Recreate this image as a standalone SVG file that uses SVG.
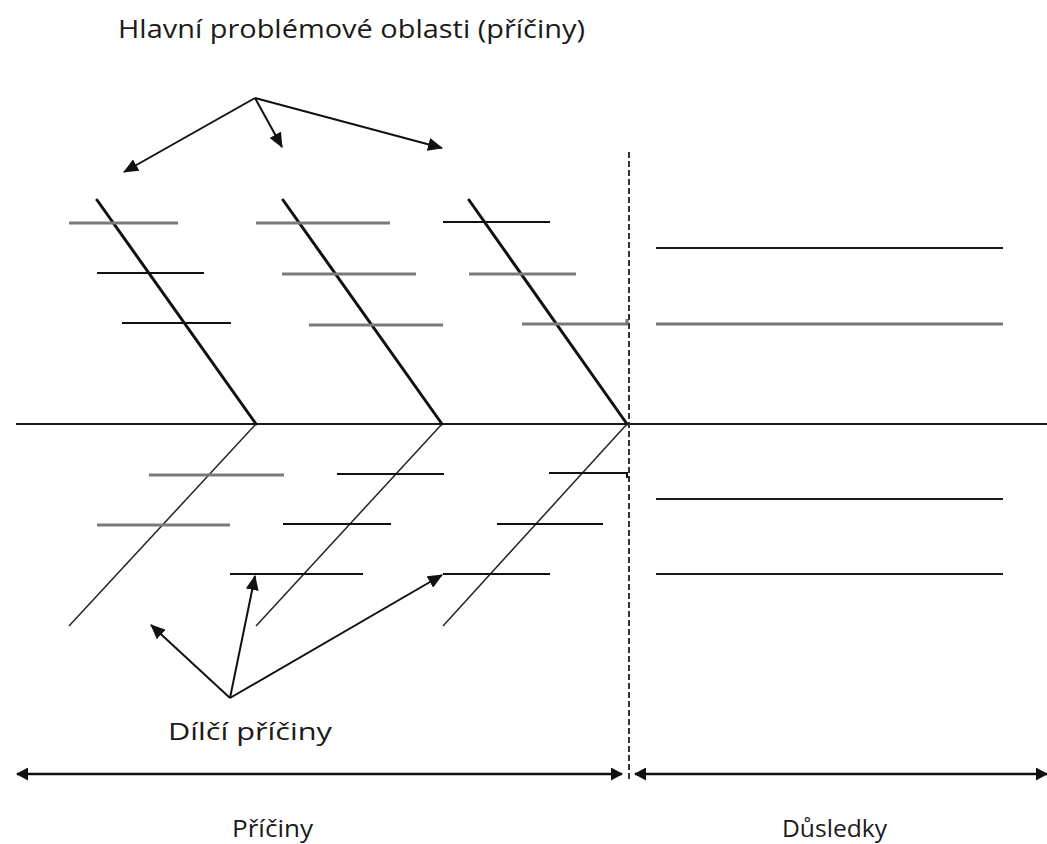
<svg xmlns="http://www.w3.org/2000/svg" width="1047" height="844" viewBox="0 0 1047 844">
<style>
  .txt { font-family: "Open Sans", "DejaVu Sans", sans-serif; fill: #1a1a1a; }
  .spine { stroke: #1a1a1a; stroke-width: 2; fill: none; }
  .bone { stroke: #111; stroke-width: 3; fill: none; stroke-linecap: round; }
  .lbone { stroke: #222; stroke-width: 1.5; fill: none; }
  .rib { stroke: #111; stroke-width: 2; fill: none; }
  .grib { stroke: #7a7a7a; stroke-width: 3.2; fill: none; }
  .cons { stroke: #1a1a1a; stroke-width: 2; fill: none; }
  .gcons { stroke: #777; stroke-width: 3.2; fill: none; }
  .arr { stroke: #111; stroke-width: 2; fill: none; marker-end: url(#ah); }
  .dbl { stroke: #111; stroke-width: 2.5; fill: none; marker-start: url(#ah2); marker-end: url(#ah2); }
  .dash { stroke: #333; stroke-width: 2; stroke-dasharray: 6 3; fill: none; }
</style>
<defs>
  <marker id="ah" viewBox="0 0 15 13" refX="14" refY="6.5" markerWidth="15" markerHeight="13" markerUnits="userSpaceOnUse" orient="auto">
    <path d="M0,0 L15,6.5 L0,13 Z" fill="#111"/>
  </marker>
  <marker id="ah2" viewBox="0 0 12 13" refX="11" refY="6.5" markerWidth="12" markerHeight="13" markerUnits="userSpaceOnUse" orient="auto-start-reverse">
    <path d="M0,0 L12,6.5 L0,13 Z" fill="#111"/>
  </marker>
</defs>
<rect width="1047" height="844" fill="#ffffff"/>

<g id="title">
  <text class="txt" x="118" y="38" font-size="26" textLength="467" lengthAdjust="spacingAndGlyphs">Hlavní problémové oblasti (příčiny)</text>
</g>

<g id="spine">
  <line class="spine" x1="16" y1="424" x2="1047" y2="424"/>
</g>

<g id="cause1">
  <line class="bone" x1="97" y1="200" x2="256" y2="424"/>
  <line class="grib" x1="69" y1="223" x2="178" y2="223"/>
  <line class="rib" x1="97" y1="273" x2="204" y2="273"/>
  <line class="rib" x1="122" y1="323" x2="231" y2="323"/>
  <line class="lbone" x1="256" y1="424" x2="69" y2="626"/>
  <line class="grib" x1="149" y1="475" x2="284" y2="475"/>
  <line class="grib" x1="97" y1="525" x2="230" y2="525"/>
</g>

<g id="cause2">
  <line class="bone" x1="283" y1="200" x2="442" y2="424"/>
  <line class="grib" x1="256" y1="223" x2="390" y2="223"/>
  <line class="grib" x1="282" y1="274" x2="416" y2="274"/>
  <line class="grib" x1="309" y1="325" x2="443" y2="325"/>
  <line class="lbone" x1="442" y1="424" x2="256" y2="626"/>
  <line class="rib" x1="337" y1="474" x2="444" y2="474"/>
  <line class="rib" x1="283" y1="524" x2="391" y2="524"/>
  <line class="rib" x1="230" y1="574" x2="363" y2="574"/>
</g>

<g id="cause3">
  <line class="bone" x1="469" y1="200" x2="627" y2="424"/>
  <line class="rib" x1="443" y1="222" x2="550" y2="222"/>
  <line class="grib" x1="469" y1="274" x2="576" y2="274"/>
  <polyline class="grib" points="522,324 627,324 627,319"/>
  <line class="lbone" x1="627" y1="424" x2="443" y2="626"/>
  <polyline class="rib" points="549,473 627,473 627,478"/>
  <line class="rib" x1="497" y1="524" x2="603" y2="524"/>
  <line class="rib" x1="443" y1="574" x2="550" y2="574"/>
</g>

<g id="divider">
  <line class="dash" x1="629" y1="152" x2="629" y2="782"/>
</g>

<g id="consequences">
  <line class="cons" x1="656" y1="248" x2="1003" y2="248"/>
  <line class="gcons" x1="656" y1="324" x2="1003" y2="324"/>
  <line class="cons" x1="656" y1="499" x2="1003" y2="499"/>
  <line class="cons" x1="656" y1="574" x2="1003" y2="574"/>
</g>

<g id="connectors">
  <line class="arr" x1="255" y1="98" x2="124" y2="172"/>
  <line class="arr" x1="255" y1="98" x2="282" y2="147"/>
  <line class="arr" x1="255" y1="98" x2="442" y2="148"/>
  <line class="arr" x1="230" y1="698" x2="151" y2="625"/>
  <line class="arr" x1="230" y1="698" x2="255" y2="576"/>
  <line class="arr" x1="230" y1="698" x2="442" y2="575"/>
  <line class="dbl" x1="17" y1="774" x2="622" y2="774"/>
  <line class="dbl" x1="635" y1="774" x2="1047" y2="774"/>
</g>

<g id="label-dilci">
  <text class="txt" x="168" y="740" font-size="24" textLength="164" lengthAdjust="spacingAndGlyphs">Dílčí příčiny</text>
</g>
<g id="label-priciny">
  <text class="txt" x="232" y="837" font-size="24" textLength="81" lengthAdjust="spacingAndGlyphs">Příčiny</text>
</g>
<g id="label-dusledky">
  <text class="txt" x="782" y="837" font-size="24" textLength="105" lengthAdjust="spacingAndGlyphs">Důsledky</text>
</g>
</svg>
